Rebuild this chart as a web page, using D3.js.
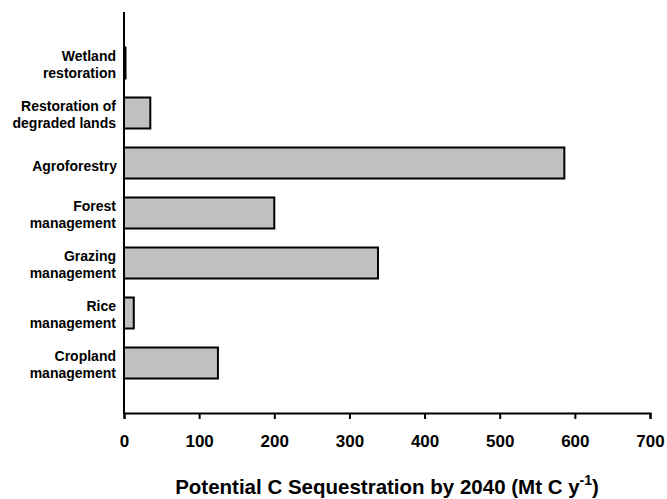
<!DOCTYPE html>
<html>
<head>
<meta charset="utf-8">
<script src="https://cdn.jsdelivr.net/npm/d3@7"></script>
<style>
  body { margin: 0; background: #fff; }
  text { font-family: "Liberation Sans", Arial, sans-serif; font-weight: bold; fill: #000; }
</style>
</head>
<body>
<script>
// Data (top to bottom)
const categories = [
  "Wetland\nrestoration",
  "Restoration of\ndegraded lands",
  "Agroforestry",
  "Forest\nmanagement",
  "Grazing\nmanagement",
  "Rice\nmanagement",
  "Cropland\nmanagement"
];
const values = [2, 35, 586, 200, 338, 13, 125];
const xTicks = [0, 100, 200, 300, 400, 500, 600, 700];

const width = 667;
const height = 499;

const svg = d3.select("body")
  .append("svg")
  .attr("width", width)
  .attr("height", height);

// Scales
const x = d3.scaleLinear()
  .domain([0, 700])
  .range([124, 650]);

const y = d3.scaleBand()
  .domain(categories)
  .range([13, 413])
  .paddingInner(0.38)
  .paddingOuter(0.69);

// Bars
svg.selectAll("rect.bar")
  .data(values)
  .enter()
  .append("rect")
  .attr("class", "bar")
  .attr("x", x(0))
  .attr("y", (d, i) => y(categories[i]))
  .attr("width", d => x(d) - x(0))
  .attr("height", y.bandwidth())
  .attr("fill", "#c0c0c0")
  .attr("stroke", "#000")
  .attr("stroke-width", 2);

// X axis
const xAxis = svg.append("g")
  .attr("transform", "translate(0,413)")
  .call(d3.axisBottom(x).tickValues(xTicks).tickSize(6).tickSizeOuter(6));

xAxis.select(".domain").attr("stroke", "#000").attr("stroke-width", 2);
xAxis.selectAll(".tick line").attr("stroke", "#000").attr("stroke-width", 2);
xAxis.selectAll(".tick text")
  .attr("y", 33.5)
  .attr("dy", 0)
  .style("font-size", "17px")
  .style("font-family", "'Liberation Sans', Arial, sans-serif")
  .style("font-weight", "bold");

// Y axis (line only)
svg.append("line")
  .attr("x1", x(0)).attr("x2", x(0))
  .attr("y1", 12).attr("y2", 414)
  .attr("stroke", "#000")
  .attr("stroke-width", 2);

// Category labels
const labels = svg.selectAll("text.cat")
  .data(categories)
  .enter()
  .append("text")
  .attr("class", "cat")
  .attr("text-anchor", "end")
  .style("font-size", "14px");

labels.each(function(d) {
  const lines = d.split("\n");
  const cy = y(d) + y.bandwidth() / 2;
  const g = d3.select(this);
  if (lines.length === 1) {
    g.append("tspan").attr("x", 117).attr("y", cy + 8).text(lines[0]);
  } else {
    lines.forEach((ln, j) => {
      g.append("tspan").attr("x", 116).attr("y", cy - 2 + j * 17).text(ln);
    });
  }
});

// X axis title
const title = svg.append("text")
  .attr("x", (x(0) + x(700)) / 2)
  .attr("y", 494)
  .attr("text-anchor", "middle")
  .style("font-size", "20.5px");
title.append("tspan").text("Potential C Sequestration by 2040 (Mt C y");
title.append("tspan").attr("dy", -9).style("font-size", "14px").text("-1");
title.append("tspan").attr("dy", 9).text(")");
</script>
</body>
</html>
